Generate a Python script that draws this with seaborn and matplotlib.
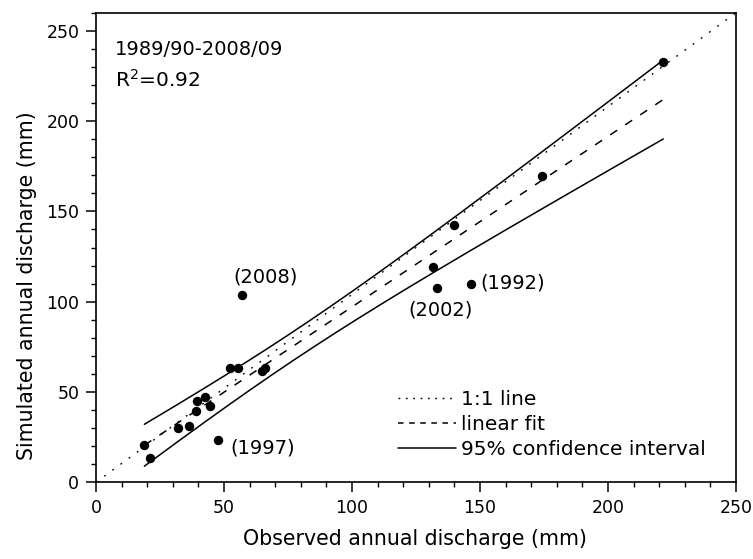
import numpy as np
import matplotlib
matplotlib.use("Agg")
import matplotlib.pyplot as plt
import seaborn as sns
from matplotlib.lines import Line2D
from matplotlib.ticker import MultipleLocator

# ---- data ----
observed = [18.9, 21.1, 32.1, 36.4, 39.1, 39.6, 42.7, 44.5, 47.8, 52.3,
            55.3, 56.9, 64.7, 66.0, 131.8, 133.1, 139.8, 146.4, 174.1, 221.6]
simulated = [20.7, 13.3, 30.2, 31.2, 39.3, 45.2, 47.4, 42.2, 23.4, 63.5,
             63.5, 103.7, 61.8, 63.1, 119.4, 107.8, 142.6, 109.9, 169.6, 232.9]

year_labels = ["(2008)", "(1997)", "(1992)", "(2002)"]
label_x = [53.5, 52.3, 150.0, 122.0]
label_y = [113.7, 19.0, 110.3, 95.5]

diag_x = [0, 250]
diag_y = [0, 260]

period_text = "1989/90-2008/09"
r2_text = "R$^2$=0.92"
legend_labels = ["1:1 line", "linear fit", "95% confidence interval"]

x_ticks = [0, 50, 100, 150, 200, 250]
y_ticks = [0, 50, 100, 150, 200, 250]

# ---- style ----
sns.set_theme(style="ticks")
plt.rcParams["font.family"] = ["DejaVu Sans"]
plt.rcParams["lines.scale_dashes"] = False
plt.rcParams["text.color"] = "black"
plt.rcParams["axes.labelcolor"] = "black"
plt.rcParams["xtick.color"] = "black"
plt.rcParams["ytick.color"] = "black"
plt.rcParams["legend.labelcolor"] = "black"

fig = plt.figure(figsize=(7.53, 5.59), dpi=100)
ax = fig.add_axes([96 / 753, 1 - 482.3 / 559, 640 / 753, 469.6 / 559])

# regression and 95% confidence band of the mean, from the data
xo = np.array(observed)
ys = np.array(simulated)
n = len(xo)
slope, intercept = np.polyfit(xo, ys, 1)
xx = np.linspace(xo.min(), xo.max(), 200)
yfit = slope * xx + intercept
resid = ys - (slope * xo + intercept)
s = np.sqrt(np.sum(resid ** 2) / (n - 2))
sxx = np.sum((xo - xo.mean()) ** 2)
tval = 2.101  # t(0.975, 18)
half = tval * s * np.sqrt(1 / n + (xx - xo.mean()) ** 2 / sxx)

ax.plot(diag_x, diag_y, color="black", lw=1.0, linestyle=(0, (1.3, 6.0)))
ax.plot(xx, yfit, color="black", lw=1.1, linestyle=(0, (6, 7)))
ax.plot(xx, yfit + half, color="black", lw=1.1)
ax.plot(xx, yfit - half, color="black", lw=1.1)

sns.scatterplot(x=observed, y=simulated, ax=ax, color="black", s=46,
                edgecolor="black", linewidth=0, zorder=5)

for lab, lx, ly in zip(year_labels, label_x, label_y):
    ax.text(lx, ly, lab, ha="left", va="center", fontsize=14, color="black")

ax.text(0.03, 0.91, period_text, transform=ax.transAxes, ha="left",
        va="baseline", fontsize=14, color="black")
ax.text(0.03, 0.842, r2_text, transform=ax.transAxes, ha="left",
        va="baseline", fontsize=14.5, color="black")

ax.set_xlim(0, 250)
ax.set_ylim(0, 260)
ax.set_xticks(x_ticks)
ax.set_yticks(y_ticks)
ax.xaxis.set_minor_locator(MultipleLocator(10))
ax.yaxis.set_minor_locator(MultipleLocator(10))
ax.tick_params(which="major", direction="out", length=7, width=1.1,
               labelsize=12.5, pad=5, colors="black")
ax.tick_params(which="minor", direction="out", length=3.6, width=1.0,
               colors="black")
ax.tick_params(top=False, right=False, which="both")
for sp in ax.spines.values():
    sp.set_visible(True)
    sp.set_color("black")
    sp.set_linewidth(1.2)
ax.set_facecolor("white")
ax.grid(False)

ax.set_xlabel("Observed annual discharge (mm)", fontsize=14.8,
              va="center", ha="center", color="black")
ax.set_ylabel("Simulated annual discharge (mm)", fontsize=14.8,
              va="center", ha="center", color="black")
ax.xaxis.set_label_coords(0.498, -0.12)
ax.yaxis.set_label_coords(-0.108, 0.418)

handles = [
    Line2D([], [], color="black", lw=1.0, linestyle=(0, (1.3, 4))),
    Line2D([], [], color="black", lw=1.1, linestyle=(0, (4, 4))),
    Line2D([], [], color="black", lw=1.1),
]
leg = ax.legend(handles, legend_labels, loc="upper left",
                bbox_to_anchor=(0.472, 0.197), frameon=False, fontsize=14.5,
                handlelength=2.9, handletextpad=0.2, labelspacing=0.3,
                borderpad=0, borderaxespad=0)
for t in leg.get_texts():
    t.set_color("black")

fig.savefig("out.png", dpi=100, facecolor="white")
